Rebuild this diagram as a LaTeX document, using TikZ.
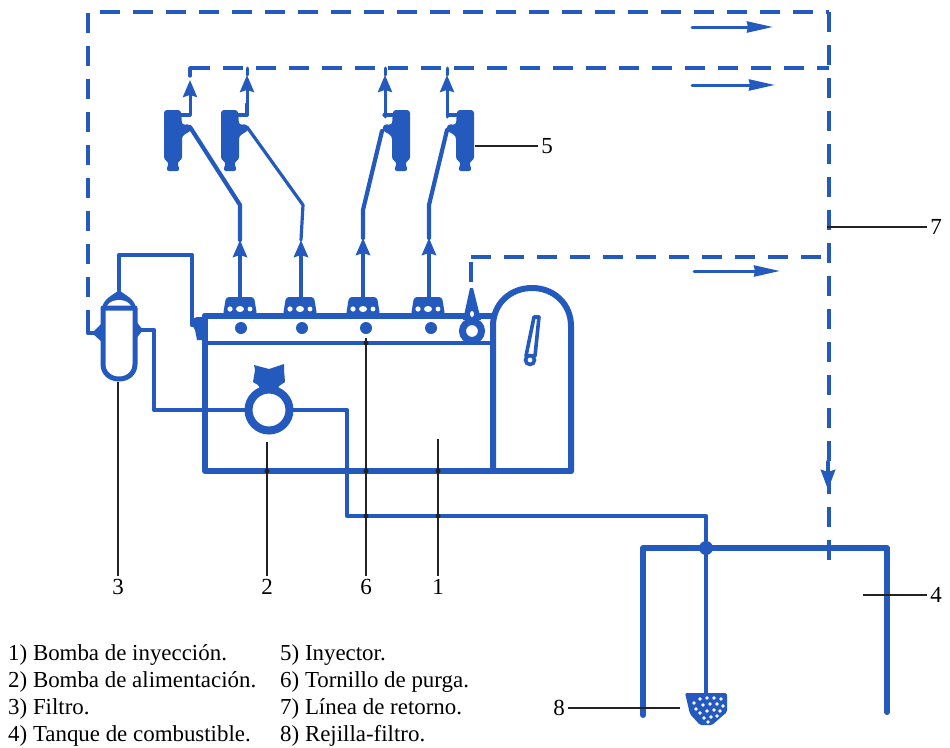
\documentclass[tikz,border=0pt]{standalone}
\usepackage{fontspec}
\setmainfont{Liberation Serif}
\usetikzlibrary{arrows.meta, positioning, calc}
\definecolor{pipeblue}{HTML}{2459BE}
\definecolor{leaderink}{HTML}{222222}

\begin{document}
\begin{tikzpicture}[
    x=1pt, y=-1pt,
    pipe/.style={draw=pipeblue, line width=4.2pt, line join=round, line cap=round},
    thickpipe/.style={pipe, line width=6pt},
    thinpipe/.style={pipe, line width=3.2pt},
    retline/.style={draw=pipeblue, line width=3.4pt, dash pattern=on 20pt off 13pt},
    uparrow/.style={pipe, -{Stealth[length=17pt, width=14pt, inset=2pt]}},
    flowarrow/.style={pipe, line width=3pt, -{Stealth[length=26pt, width=11pt, inset=1pt]}},
    leader/.style={draw=leaderink, line width=1.5pt},
    crossdot/.style={circle, fill=leaderink, inner sep=0pt, minimum size=5pt},
    callout/.style={font=\fontsize{23}{26}\selectfont, inner sep=3pt, text=black},
    legend/.style={font=\fontsize{22.9}{26}\selectfont, anchor=base west, inner sep=0pt, text=black},
    bolt/.style={circle, fill=pipeblue, inner sep=0pt, minimum size=12pt},
    injector/.pic={
        \fill[pipeblue, rounded corners=3pt] (-9,-25) -- (8,-25) -- (9,-10) -- (17,-11) -- (19,-5) -- (9,1) -- (9,25)
            -- (4,27) -- (7,36) -- (-7,36) -- (-4,27) -- (-9,25) -- cycle;
        \draw[pipe, line width=3.2pt] (8,-20) -- (17,-20);
    },
    outlet/.pic={
        \fill[pipeblue, rounded corners=3pt] (-17,3) -- (-14,-15) -- (14,-15) -- (17,3) -- cycle;
        \fill[white] (-10,-3) circle[radius=2.6pt] (0,-3) ellipse[x radius=4pt, y radius=3pt] (10,-3) circle[radius=2.4pt];
    }
]
\useasboundingbox (0,0) rectangle (950,747);

% Return lines (dashed)
\coordinate (retfilter) at (88,330);
\coordinate (retcorner) at (829,12);
\coordinate (rettank) at (829,560);
\draw[retline] (retfilter) -- (88,12) -- (retcorner);
\draw[retline] (retcorner) -- (rettank);
\draw[retline] (190,68) -- (829,68);
\draw[pipe, line width=3.4pt] (190,76) -- (190,68) -- (205,68);
\coordinate (purgetop) at (471,257);
\draw[retline] (purgetop) -- (829,257);
\draw[retline] (471,262) -- (471,282);

% Flow arrows
\draw[flowarrow] (692,27) -- (773,27);
\draw[flowarrow] (692,85) -- (775,85);
\draw[flowarrow] (694,271) -- (780,271);
\draw[pipe, -{Stealth[length=20pt, width=14pt, inset=2pt]}] (828,462) -- (828,490);

% Injectors
\pic at (173,135) {injector};
\pic at (230,135) {injector};
\pic[xscale=-1] at (401,135) {injector};
\pic[xscale=-1] at (465,135) {injector};

% Injector return stubs
\draw[uparrow, line width=3pt] (190,115) -- (190,80);
\draw[uparrow, line width=3pt] (247,104) -- (247,75);
\draw[thinpipe] (247,104) -- (247,115);
\draw[pipe, line width=3pt] (247,75) -- (247,68);
\draw[uparrow, line width=3pt] (385,117) -- (385,75);
\draw[pipe, line width=3pt] (385,75) -- (385,68);
\draw[uparrow, line width=3pt] (447,117) -- (447,75);
\draw[pipe, line width=3pt] (447,75) -- (447,68);

% Injection lines
\draw[uparrow] (240,300) -- (240,240);
\draw[pipe] (240,240) -- (240,205) -- (190,127);
\draw[uparrow] (301,300) -- (301,240);
\draw[thinpipe] (301,240) -- (303,205) -- (247,127);
\draw[uparrow] (363,300) -- (363,238);
\draw[pipe] (363,238) -- (363,210) -- (382,131);
\draw[uparrow] (429,300) -- (429,238);
\draw[pipe] (429,238) -- (429,205) -- (447,130);

% Injection pump housing
\draw[thickpipe] (205,316) -- (493,316);
\draw[thickpipe] (205,316) -- (205,471) -- (571,471);
\draw[thinpipe] (205,343) -- (493,343);
\pic at (240,312) {outlet};
\pic at (300,312) {outlet};
\pic at (363,312) {outlet};
\pic at (428,312) {outlet};
\node[bolt] (bolta) at (241,328) {};
\node[bolt] (boltb) at (302,328) {};
\node[bolt] (boltc) at (366,328) {};
\node[bolt] (boltd) at (431,328) {};

% Governor
\draw[thickpipe] (493,471) -- (493,326) .. controls (493,304) and (510,288) .. (532,288)
    .. controls (554,288) and (571,304) .. (571,326) -- (571,471);
\draw[pipeblue, line width=3.6pt, line join=round, fill=white] (534,317) -- (539,317) -- (535,356) -- (526,356) -- cycle;
\draw[pipeblue, line width=3.6pt, fill=white] (530,360) circle[radius=4.5pt];

% Purge screw
\node[circle, draw=pipeblue, fill=white, line width=7pt, inner sep=0pt, minimum size=19pt] (purge) at (472,331) {};
\fill[pipeblue] (470,288) -- (473,288) -- (481,320) -- (463,320) -- cycle;
\fill[white] (472,314) ellipse[x radius=2pt, y radius=3pt];

% Filter
\coordinate (filtertop) at (119,290);
\fill[pipeblue] (102,308) .. controls (104,298) and (112,296) .. (119,290) .. controls (126,296) and (134,298) .. (136,308) -- cycle;
\fill[white] (107,306) .. controls (111,298) and (127,298) .. (131,306) -- cycle;
\draw[pipe, fill=white, line width=5pt] (103,308) -- (135,308) -- (135,364)
    .. controls (135,374) and (127,379) .. (119,379) .. controls (111,379) and (103,374) .. (103,364) -- cycle;
\fill[pipeblue] (103,322) -- (92,333) -- (103,343) -- cycle;
\fill[pipeblue] (135,320) -- (143,330) -- (135,340) -- cycle;
\draw[pipe] (88,316) -- (88,333) -- (96,333);

% Feed pump
\node[circle, draw=pipeblue, fill=white, line width=8pt, inner sep=0pt, minimum size=41pt] (feedpump) at (269,410) {};
\fill[pipeblue] (253,382) -- (255,370) -- (254,365) -- (269,369) -- (284,364) -- (284,370) -- (285,382) -- (279,386) -- (277,390) -- (261,390) -- (258,385) -- cycle;

% Fuel circuit
\draw[pipe] (filtertop) -- (119,255) -- (192,255) -- (192,325) -- (205,325);
\fill[pipeblue] (190,320) -- (197,317) -- (205,317) -- (205,340) -- (197,340) -- (195,330) -- cycle;
\draw[pipe] (140,330) -- (154,330) -- (154,410) -- (feedpump);
\draw[pipe] (feedpump) -- (347,410) -- (347,516) -- (706,516) -- (706,693);

% Tank
\coordinate (tankleft) at (643,715);
\coordinate (tankright) at (887,712);
\draw[thickpipe] (tankleft) -- (643,548) -- (887,548) -- (tankright);
\fill[pipeblue] (706,548) circle[radius=7pt];

% Strainer
\fill[pipeblue, rounded corners=1.5pt] (685,693) -- (727,693) -- (727,712) -- (712,725) -- (700,725) -- (690,714) -- cycle;
\foreach \hx/\hy in {694/703, 700/699, 707/698, 714/698, 721/699, 696/709, 703/705, 710/704, 717/704, 723/706, 700/713, 707/711, 714/710, 720/711, 704/718, 711/717, 717/716, 708/722}
    \fill[white] (\hx,\hy) circle[radius=1.8pt];

% Callouts
\node[callout] (numthree) at (118,587) {3};
\node[callout] (numtwo) at (267,587) {2};
\node[callout] (numsix) at (366,587) {6};
\node[callout] (numone) at (438,587) {1};
\node[callout] (numfive) at (547,146) {5};
\node[callout] (numseven) at (936,227) {7};
\node[callout] (numfour) at (936,595) {4};
\node[callout] (numeight) at (559,708) {8};

\coordinate (filterfoot) at (118,382);
\coordinate (pumpfoot) at (267,442);
\coordinate (screwfoot) at (366,338);
\coordinate (bodyfoot) at (438,439);
\coordinate (injfoot) at (475,146);
\coordinate (retfoot) at (827,227);
\coordinate (tankfoot) at (863,595);
\coordinate (meshfoot) at (680,708);
\draw[leader] (filterfoot) -- (numthree);
\draw[leader] (pumpfoot) -- (numtwo);
\draw[leader] (screwfoot) -- (numsix);
\draw[leader] (bodyfoot) -- (numone);
\draw[leader] (injfoot) -- (numfive);
\draw[leader] (retfoot) -- (numseven);
\draw[leader] (tankfoot) -- (numfour);
\draw[leader] (meshfoot) -- (numeight);

% Leader crossings
\node[crossdot] (crossa) at (267,471) {};
\node[crossdot] (crossb) at (366,471) {};
\node[crossdot] (crossc) at (438,471) {};
\node[crossdot] (crossd) at (366,516) {};
\node[crossdot] (crosse) at (438,516) {};
\node[crossdot] (crossf) at (366,343) {};

% Legend
\node[legend] (itemone) at (8,660) {1) Bomba de inyección.};
\node[legend] (itemtwo) at (8,687) {2) Bomba de alimentación.};
\node[legend] (itemthree) at (8,714) {3) Filtro.};
\node[legend] (itemfour) at (8,741) {4) Tanque de combustible.};
\node[legend] (itemfive) at (280,660) {5) Inyector.};
\node[legend] (itemsix) at (280,687) {6) Tornillo de purga.};
\node[legend] (itemseven) at (280,714) {7) Línea de retorno.};
\node[legend] (itemeight) at (280,741) {8) Rejilla-filtro.};
\end{tikzpicture}
\end{document}
